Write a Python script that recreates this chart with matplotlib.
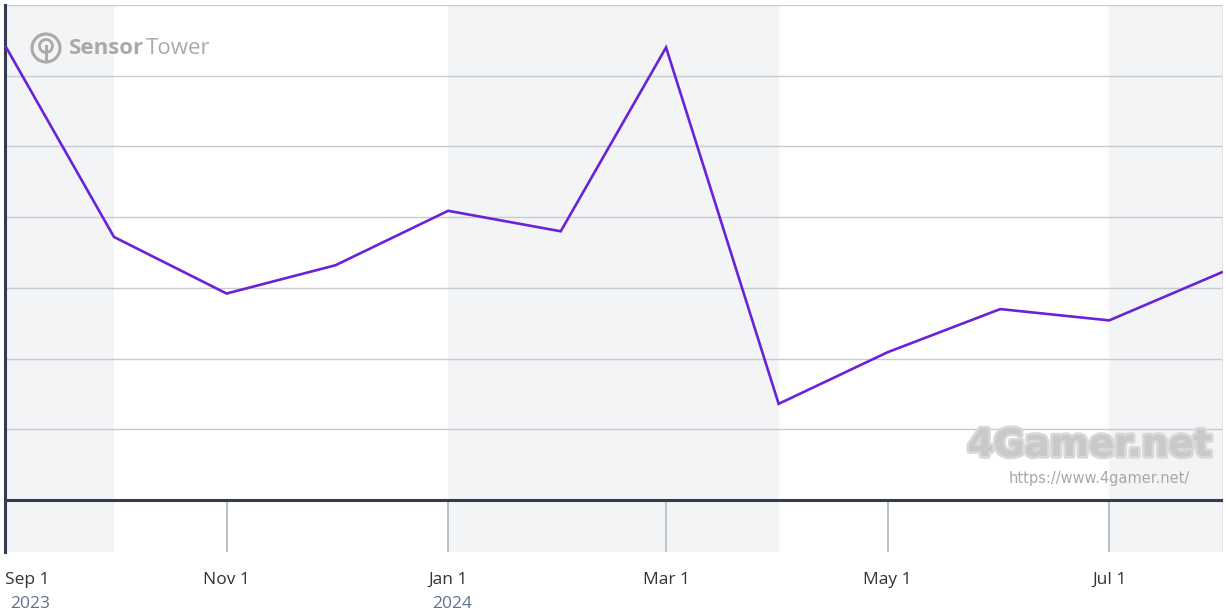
import matplotlib
matplotlib.use("Agg")
import matplotlib.pyplot as plt
import matplotlib.dates as mdates
import matplotlib.patheffects as pe
from matplotlib.patches import Circle
from matplotlib.lines import Line2D
import datetime as dt

# ---- data ----
months = ["2023-09-01", "2023-10-01", "2023-11-01", "2023-12-01", "2024-01-01", "2024-02-01",
          "2024-03-01", "2024-04-01", "2024-05-01", "2024-06-01", "2024-07-01", "2024-08-01"]
values = [6.43, 3.72, 2.92, 3.32, 4.09, 3.80, 6.40, 1.36, 2.09, 2.70, 2.54, 3.22]
tick_dates = ["2023-09-01", "2023-11-01", "2024-01-01", "2024-03-01", "2024-05-01", "2024-07-01"]
tick_labels = ["Sep 1", "Nov 1", "Jan 1", "Mar 1", "May 1", "Jul 1"]
year_labels = {"2023-09-01": "2023", "2024-01-01": "2024"}
band_starts = ["2023-09-01", "2024-01-01", "2024-07-01"]
band_ends = ["2023-10-01", "2024-04-01", "2024-08-02"]

def d(s):
    return dt.datetime.strptime(s, "%Y-%m-%d")

x = [d(m) for m in months]

W, H = 1226, 616
fig = plt.figure(figsize=(W / 100, H / 100), dpi=100)
fig.patch.set_facecolor("white")
ax = fig.add_axes([5 / W, (H - 552) / H, 1218 / W, 547 / H])
ax.set_facecolor("white")

ymin, ymax = -0.735, 7.0
xmin, xmax = d("2023-09-01"), d("2024-08-01") + dt.timedelta(hours=8)
ax.set_xlim(xmin, xmax)
ax.set_ylim(ymin, ymax)

# bands
for s, e in zip(band_starts, band_ends):
    ax.axvspan(d(s), d(e), color="#f3f4f6", zorder=0, lw=0)

# gridlines
for g in range(1, 8):
    ax.axhline(g, color="#c8cbd0", lw=1.0, zorder=1)
# axis line
ax.axhline(0, color="#333d4f", lw=2.2, zorder=3)

# tick lines under axis
frac0 = (0 - ymin) / (ymax - ymin)
for td in tick_dates[1:]:
    ax.axvline(d(td), ymin=0, ymax=frac0, color="#b8c0cc", lw=1.4, zorder=2)

# data line
ax.plot(x, values, color="#6a22d6", lw=1.9, zorder=4, solid_joinstyle="miter")

for sp in ["top", "right", "bottom"]:
    ax.spines[sp].set_visible(False)
ax.spines["left"].set_color("#333d4f")
ax.spines["left"].set_linewidth(2.2)
ax.axvline(xmax, color="#dde0e5", lw=1.2, zorder=1)
ax.set_xticks([])
ax.set_yticks([])

# tick labels
font = "Open Sans"
fs = 12.5
for td, lab in zip(tick_dates, tick_labels):
    xv = mdates.date2num(d(td))
    first = td == tick_dates[0]
    ax.text(xv, ymin - 0.28, lab, ha="left" if first else "center", va="top", fontsize=fs,
            color="#333333", family=font, clip_on=False)
    if td in year_labels:
        off = xv + (1.5 if first else 1)
        ax.text(off, ymin - 0.62, year_labels[td], ha="left" if first else "center",
                va="top", fontsize=fs, color="#5f7190", family=font, clip_on=False)

# Sensor Tower logo
fig.patches.append(Circle((46, H - 48), 14, transform=None, fill=False, ec="#aaaaaa", lw=2.2))
fig.patches.append(Circle((46, H - 46), 6.5, transform=None, fill=False, ec="#aaaaaa", lw=2.0))
fig.lines.append(Line2D([46, 46], [H - 46, H - 61], transform=None, color="#aaaaaa", lw=2.2))
t1 = fig.text(69 / W, 1 - 48 / H, "Sensor", fontsize=16, fontweight="bold", color="#a9a9a9",
              va="center", ha="left", family=font)
fig.canvas.draw()
bb = t1.get_window_extent()
fig.text((bb.x1 + 2) / W, 1 - 48 / H, "Tower", fontsize=16, color="#a9a9a9", va="center",
         ha="left", family=font)

# 4Gamer watermark
t = fig.text(1212 / W, 1 - 446 / H, "4Gamer.net", fontsize=27, fontweight="bold", color="#c9c9c9",
             ha="right", va="center", family="DejaVu Sans")
t.set_path_effects([pe.withStroke(linewidth=4, foreground="#d8d8d8"), pe.Normal()])
fig.text(1190 / W, 1 - 478 / H, "https://www.4gamer.net/", fontsize=10.5, color="#a8a8a8",
         ha="right", va="center", family="DejaVu Sans")

fig.savefig("out.png", dpi=100, facecolor="white")
